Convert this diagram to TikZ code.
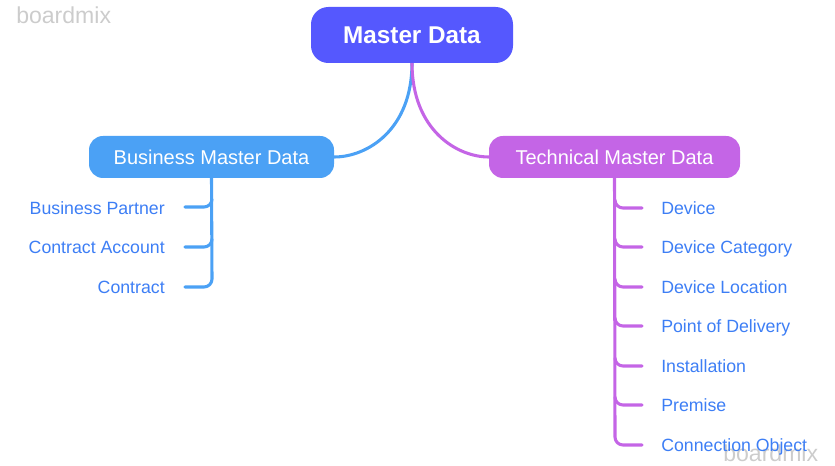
\documentclass[tikz,border=0pt]{standalone}
\usepackage{fontspec}
\setmainfont{Liberation Sans}
\definecolor{cmaster}{HTML}{5558FE}
\definecolor{cbiz}{HTML}{4BA1F5}
\definecolor{ctech}{HTML}{C465E6}
\definecolor{cleaf}{HTML}{3D7EF5}
\definecolor{cmark}{HTML}{CCCCCC}
\begin{document}
\begin{tikzpicture}[x=0.75pt,y=-0.75pt,
  rootbox/.style={fill=cmaster,text=white,rounded corners=13pt,minimum width=151.5pt,minimum height=42pt,inner sep=0pt,font=\fontsize{18.2}{20}\selectfont\bfseries},
  midbox/.style={rounded corners=10.5pt,text=white,minimum height=31.5pt,inner sep=0pt,font=\fontsize{15}{18}\selectfont},
  leafl/.style={anchor=base east,text=cleaf,inner sep=0pt,font=\fontsize{13.3}{16}\selectfont},
  leafr/.style={anchor=base west,text=cleaf,inner sep=0pt,font=\fontsize{13.3}{16}\selectfont},
  wmark/.style={text=cmark,inner sep=0pt,font=\fontsize{17.3}{20}\selectfont},
  conn/.style={line width=2.3pt,line cap=round,line join=round}]
\useasboundingbox (0,0) rectangle (835,466);
\begin{scope}
\clip (0,0) rectangle (835,466);
\node[wmark,anchor=west] (wm1) at (16,15) {boardmix};
\node[wmark,anchor=west] (wm2) at (723,453) {boardmix};
\end{scope}
% connectors from root
\coordinate (rootb) at (412,63);
\node[midbox,fill=cbiz,minimum width=183.75pt] (biz) at (211.5,157) {Business Master Data};
\node[midbox,fill=ctech,minimum width=188.25pt] (tech) at (614.5,157) {Technical Master Data};
\draw[conn,cbiz] (rootb) .. controls (412,130) and (367,157) .. (biz.east);
\draw[conn,ctech] (rootb) .. controls (412,130) and (457,157) .. (tech.west);
\node[rootbox] (root) at (412,35) {Master Data};
% business leaves
\node[leafl] (b1) at (165,214.3) {Business Partner};
\node[leafl] (b2) at (165,253.3) {Contract Account};
\node[leafl] (b3) at (165,293.3) {Contract};
\draw[conn,cbiz] (biz.south) -- (212,279) arc[start angle=0,end angle=90,radius=8] -- (185,287);
\foreach \y in {207,247}{
  \draw[conn,cbiz] (212,\y-8) arc[start angle=0,end angle=90,radius=8] -- (185,\y);
}
% technical leaves
\node[leafr] (t1) at (661,214.3) {Device};
\node[leafr] (t2) at (661,253.3) {Device Category};
\node[leafr] (t3) at (661,293.3) {Device Location};
\node[leafr] (t4) at (661,332.3) {Point of Delivery};
\node[leafr] (t5) at (661,372.3) {Installation};
\node[leafr] (t6) at (661,411.3) {Premise};
\node[leafr] (t7) at (661,451.3) {Connection Object};
\draw[conn,ctech] (tech.south) -- (615,437) arc[start angle=180,end angle=90,radius=8] -- (642,445);
\foreach \y in {208,247,287,326,366,405}{
  \draw[conn,ctech] (615,\y-8) arc[start angle=180,end angle=90,radius=8] -- (642,\y);
}
\end{tikzpicture}
\end{document}
